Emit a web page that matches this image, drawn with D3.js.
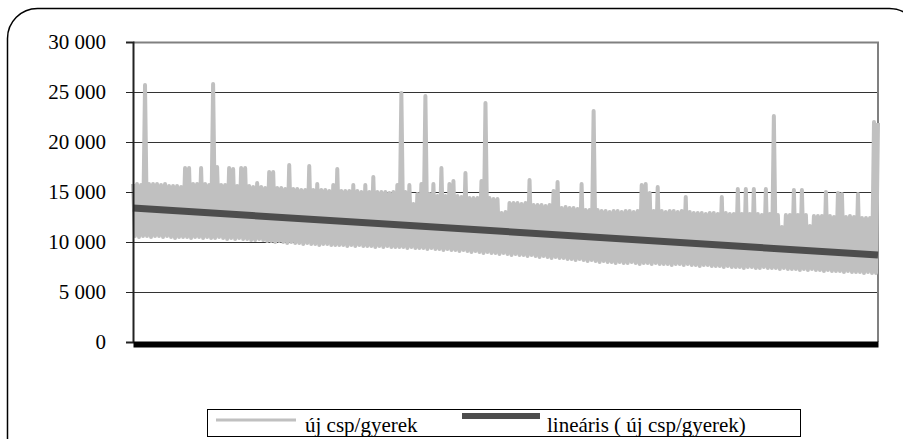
<!DOCTYPE html>
<html>
<head>
<meta charset="utf-8">
<script src="https://cdn.jsdelivr.net/npm/d3@7"></script>
<style>
  html, body { margin: 0; padding: 0; background: #fff; overflow: hidden; }
  svg { display: block; overflow: hidden; }
  svg text { font-family: "Liberation Serif", "Times New Roman", "DejaVu Serif", serif; fill: #000; }
</style>
</head>
<body>
<svg width="903" height="439"></svg>
<script>
// y axis ticks
const yTicks = [0, 5000, 10000, 15000, 20000, 25000, 30000];

// new csp per child (alternating high / low swings)
const values = [
  15800, 10600, 15800, 10500, 15700, 10600, 25700, 10600, 15800, 10500,
  15800, 10600, 15800, 10600, 15700, 10500, 15800, 10600, 15600, 10500,
  15600, 10400, 15600, 10500, 15500, 10500, 17400, 10500, 17400, 10400,
  15800, 10500, 15800, 10500, 17400, 10400, 15800, 10500, 15700, 10400,
  25800, 10400, 17500, 10500, 15700, 10400, 15700, 10300, 17400, 10400,
  17300, 10300, 15600, 10400, 17400, 10300, 17400, 10300, 15600, 10200,
  15500, 10200, 15900, 10300, 15500, 10200, 15400, 10100, 17000, 10100,
  17000, 10000, 15400, 10100, 15400, 10000, 15300, 9900, 17700, 10000,
  15300, 9900, 15300, 9900, 15200, 9800, 15200, 9900, 17600, 9800,
  15200, 9800, 15800, 9700, 15200, 9800, 15200, 9800, 15100, 9700,
  15700, 9700, 17300, 9700, 15100, 9700, 15100, 9600, 15100, 9700,
  15700, 9600, 15100, 9700, 15000, 9600, 15700, 9600, 15000, 9600,
  16500, 9500, 15000, 9600, 15000, 9500, 15000, 9600, 14900, 9500,
  15000, 9500, 15700, 9500, 24900, 9500, 15000, 9400, 15700, 9500,
  13800, 9400, 14800, 9400, 15800, 9400, 24600, 9300, 14800, 9400,
  15800, 9300, 14600, 9300, 17400, 9200, 14600, 9300, 15800, 9200,
  16100, 9200, 14600, 9100, 14500, 9200, 16900, 9100, 14400, 9000,
  14400, 9100, 14400, 9000, 16100, 8900, 23900, 9000, 14400, 8900,
  14300, 8900, 14300, 8800, 12900, 8900, 13000, 8800, 13900, 8700,
  13900, 8800, 13900, 8700, 13800, 8700, 13900, 8600, 16200, 8700,
  13700, 8600, 13700, 8500, 13700, 8600, 13600, 8500, 13700, 8400,
  15100, 8500, 16000, 8400, 13400, 8400, 13500, 8300, 13400, 8300,
  13400, 8200, 13300, 8300, 15800, 8200, 13200, 8100, 13200, 8200,
  23100, 8100, 13200, 8000, 13100, 8100, 13100, 8000, 13000, 8000,
  13100, 7900, 13100, 8000, 13000, 7900, 13100, 7900, 13100, 8000,
  13000, 7900, 13100, 7800, 15700, 7900, 15800, 7900, 14900, 7800,
  13100, 7900, 15500, 7800, 13100, 7800, 13000, 7800, 13100, 7700,
  13100, 7800, 13000, 7800, 13100, 7700, 14500, 7800, 13000, 7700,
  12900, 7700, 12900, 7600, 12900, 7700, 12800, 7700, 12900, 7600,
  12900, 7600, 12800, 7600, 14500, 7500, 12900, 7600, 12800, 7500,
  12800, 7500, 15300, 7500, 12800, 7400, 15300, 7500, 12800, 7500,
  15300, 7400, 12800, 7400, 12700, 7500, 15300, 7400, 12800, 7400,
  22600, 7400, 12700, 7300, 11500, 7400, 12700, 7300, 12700, 7300,
  15200, 7300, 12700, 7200, 15200, 7300, 12700, 7200, 11600, 7300,
  12600, 7200, 12600, 7200, 12600, 7100, 15000, 7200, 12600, 7100,
  12500, 7100, 14900, 7100, 14800, 7000, 12500, 7100, 12600, 7000,
  12500, 7000, 14800, 7000, 12400, 6900, 12400, 7000, 12400, 6900,
  22000, 6900, 21900
];

// linear trend, start and end values
const trend = [13400, 8700];

const legendLabels = ['új csp/gyerek', 'lineáris ( új csp/gyerek)'];

const margin = { top: 42, right: 25, bottom: 97, left: 133 };
const width = 903 - margin.left - margin.right;
const height = 439 - margin.top - margin.bottom;
const serif = '"Liberation Serif", "Times New Roman", "DejaVu Serif", serif';

const svg = d3.select('svg');

// outer rounded frame, runs off the right and bottom edges
svg.append('rect')
  .attr('x', 7.5).attr('y', 8.5)
  .attr('width', 912).attr('height', 460)
  .attr('rx', 30).attr('ry', 30)
  .attr('fill', 'none')
  .attr('stroke', '#000')
  .attr('stroke-width', 1.5);

const chart = svg.append('g').attr('transform', `translate(${margin.left}, ${margin.top})`);

const yScale = d3.scaleLinear().domain([0, 30000]).range([height, 0]);
const xScale = d3.scaleLinear().domain([0, values.length - 1]).range([0, width]);

const fmt = d3.formatLocale({ decimal: ',', thousands: '\u00a0', grouping: [3], currency: ['', ''] }).format(',');

// gridlines
chart.append('g')
  .selectAll('line')
  .data(yTicks.filter(t => t > 0 && t < 30000))
  .enter().append('line')
  .attr('x1', 0).attr('x2', width)
  .attr('y1', t => Math.round(yScale(t)) + 0.5)
  .attr('y2', t => Math.round(yScale(t)) + 0.5)
  .attr('stroke', '#333')
  .attr('stroke-width', 1);

// plot border top and right
chart.append('path')
  .attr('d', `M0,0.5H${width}V${height}`)
  .attr('fill', 'none')
  .attr('stroke', '#808080')
  .attr('stroke-width', 2);

// the series
const line = d3.line()
  .x((d, i) => xScale(i))
  .y(d => yScale(d));

chart.append('path')
  .datum(values)
  .attr('d', line)
  .attr('fill', 'none')
  .attr('stroke', '#c0c0c0')
  .attr('stroke-width', 4)
  .attr('stroke-linejoin', 'round');

// trend line
chart.append('line')
  .attr('x1', xScale(0)).attr('x2', xScale(values.length - 1))
  .attr('y1', yScale(trend[0])).attr('y2', yScale(trend[1]))
  .attr('stroke', '#4d4d4d')
  .attr('stroke-width', 7);

// y axis
const yAxis = chart.append('g')
  .call(d3.axisLeft(yScale).tickValues(yTicks).tickSize(7).tickPadding(20).tickFormat(fmt))
  .attr('font-family', serif)
  .attr('font-size', 21);
yAxis.select('.domain').attr('stroke', '#222').attr('stroke-width', 2);
yAxis.selectAll('.tick line').attr('stroke', '#222');
yAxis.selectAll('.tick text')
  .attr('font-family', serif)
  .style('font-family', serif)
  .style('font-size', '21px');

// x axis: heavy black bar along zero
chart.append('g')
  .attr('transform', `translate(0, ${height + 2})`)
  .call(d3.axisBottom(xScale).tickValues([]).tickSizeOuter(0))
  .select('.domain')
  .attr('stroke', '#000')
  .attr('stroke-width', 6);

// legend
const legend = svg.append('g').attr('font-family', serif);
legend.append('rect')
  .attr('x', 207.5).attr('y', 409.5)
  .attr('width', 593).attr('height', 27)
  .attr('fill', '#fff')
  .attr('stroke', '#000')
  .attr('stroke-width', 1);

legend.append('line')
  .attr('x1', 216).attr('x2', 296)
  .attr('y1', 420).attr('y2', 420)
  .attr('stroke', '#c0c0c0').attr('stroke-width', 3);
legend.append('text')
  .attr('x', 305).attr('y', 432)
  .style('font-family', serif)
  .style('font-size', '21px')
  .text(legendLabels[0]);

legend.append('line')
  .attr('x1', 462).attr('x2', 540)
  .attr('y1', 416).attr('y2', 416)
  .attr('stroke', '#4d4d4d').attr('stroke-width', 6);
legend.append('text')
  .attr('x', 547).attr('y', 432)
  .style('font-family', serif)
  .style('font-size', '21px')
  .text(legendLabels[1]);
</script>
</body>
</html>
